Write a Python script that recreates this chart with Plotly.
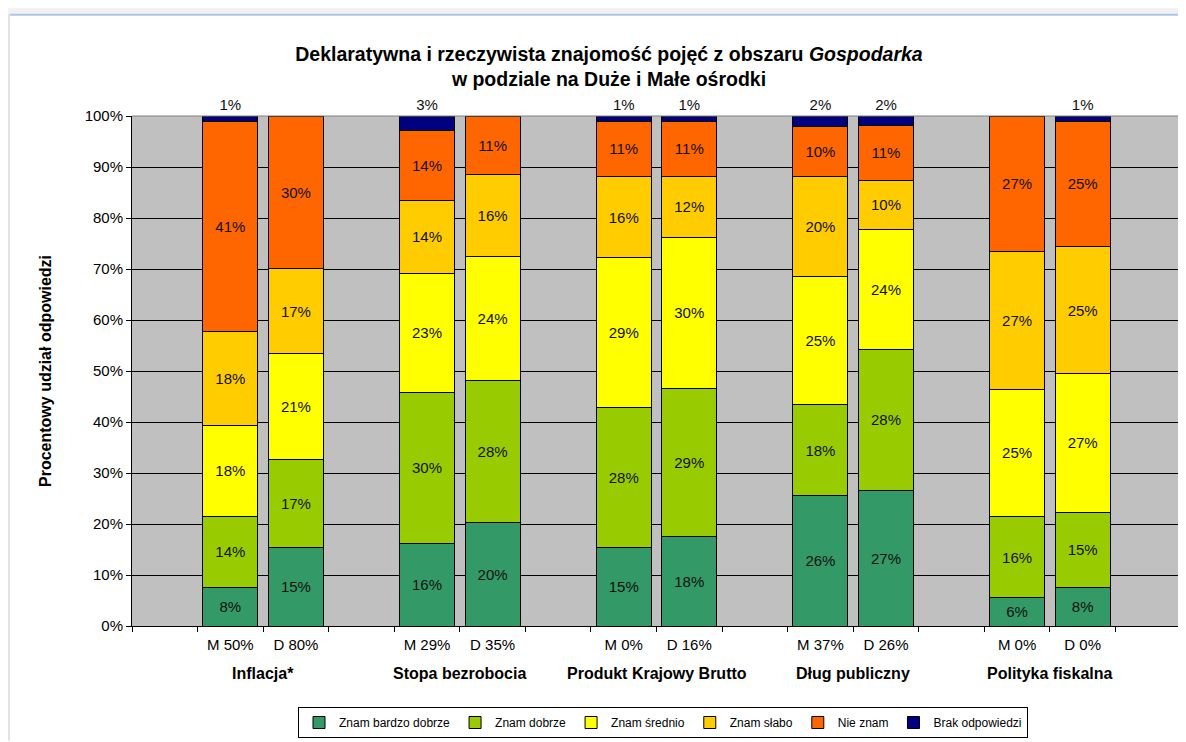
import plotly.graph_objects as go

# ---- data ----
groups = ["Inflacja*", "Stopa bezrobocia", "Produkt Krajowy Brutto", "Dług publiczny", "Polityka fiskalna"]
bar_labels = ["M 50%", "D 80%", "M 29%", "D 35%", "M 0%", "D 16%", "M 37%", "D 26%", "M 0%", "D 0%"]

znam_bardzo_dobrze = [7.6, 15.3, 16.2, 20.3, 15.3, 17.6, 25.6, 26.6, 5.5, 7.6]
znam_dobrze        = [13.9, 17.4, 29.6, 27.9, 27.6, 29.0, 17.8, 27.6, 16.0, 14.7]
znam_srednio       = [17.8, 20.7, 23.4, 24.3, 29.3, 29.6, 25.1, 23.6, 24.9, 27.2]
znam_slabo         = [18.4, 16.7, 14.2, 16.1, 15.9, 12.0, 19.6, 9.6, 27.0, 24.9]
nie_znam           = [41.3, 29.9, 13.7, 11.4, 10.9, 10.8, 9.9, 10.8, 26.6, 24.6]
brak_odpowiedzi    = [1.0, 0.0, 2.9, 0.0, 1.0, 1.0, 2.0, 1.8, 0.0, 1.0]

series_names = ["Znam bardzo dobrze", "Znam dobrze", "Znam średnio", "Znam słabo", "Nie znam", "Brak odpowiedzi"]
series_values = [znam_bardzo_dobrze, znam_dobrze, znam_srednio, znam_slabo, nie_znam, brak_odpowiedzi]
series_colors = ["#339966", "#99CC00", "#FFFF00", "#FFCC00", "#FF6600", "#000080"]

# slot positions: each group takes 3 slots (empty, M, D), plus a trailing empty slot
xpos = [3 * (i // 2) + 1 + (i % 2) for i in range(len(bar_labels))]
group_centers = [3 * g + 1.5 for g in range(len(groups))]

FONT = "Liberation Sans, Arial, sans-serif"
OFF = 8  # page body margin
W, H = 1186 - OFF, 742 - OFF

fig = go.Figure()
for name, vals, col in zip(series_names, series_values, series_colors):
    last = name == "Brak odpowiedzi"
    fig.add_trace(go.Bar(
        x=xpos, y=vals, name=name,
        marker=dict(color=col, line=dict(color="black", width=1)),
        text=["" if v == 0 else f"{v:.0f}%" for v in vals],
        textposition="outside" if last else "inside",
        insidetextanchor="middle",
        textangle=0,
        constraintext="none",
        cliponaxis=False,
        textfont=dict(family=FONT, size=15, color="#111111"),
        hovertemplate="%{y:.1f}%<extra>" + name + "</extra>",
    ))

def px_x(px):
    return (px - 132) / 1049

def px_y(py):
    return (627 - py) / 511

annotations = []
for gname, gx in zip(groups, group_centers):
    annotations.append(dict(
        x=gx, y=px_y(675), xref="x", yref="paper",
        text=f"<b>{gname}</b>", showarrow=False, yanchor="middle",
        font=dict(family=FONT, size=16, color="#000000"),
    ))
annotations.append(dict(
    x=px_x(45), y=0.5, xref="paper", yref="paper",
    text="<b>Procentowy udział odpowiedzi</b>", textangle=-90, showarrow=False,
    xanchor="center", yanchor="middle",
    font=dict(family=FONT, size=16, color="#000000"),
))

shapes = [
    # window-like frame decoration
    dict(type="rect", xref="paper", yref="paper", x0=px_x(OFF), x1=px_x(1186),
         y0=px_y(14), y1=px_y(OFF), line=dict(width=0),
         fillcolor="#f1f1f1", layer="below"),
    dict(type="line", xref="paper", yref="paper", x0=px_x(10), x1=px_x(1186),
         y0=px_y(14.5), y1=px_y(14.5), line=dict(color="#a9c6ea", width=2)),
    dict(type="rect", xref="paper", yref="paper", x0=px_x(OFF), x1=px_x(10),
         y0=px_y(742), y1=px_y(14), line=dict(width=0),
         fillcolor="#e2e2e2", layer="below"),
    # gray plot-area border (top, right)
    dict(type="line", xref="paper", yref="paper", x0=0, x1=1, y0=1, y1=1,
         line=dict(color="#808080", width=1)),
    dict(type="line", xref="paper", yref="paper", x0=1, x1=1, y0=0, y1=1,
         line=dict(color="#808080", width=1)),
]

fig.update_layout(
    width=W, height=H,
    margin=dict(l=132 - OFF, r=W - (1181 - OFF), t=116 - OFF, b=H - (627 - OFF)),
    barmode="stack", bargap=0.16,
    paper_bgcolor="white", plot_bgcolor="#C0C0C0",
    font=dict(family=FONT, size=15, color="#000000"),
    title=dict(
        text="<b>Deklaratywna i rzeczywista znajomość pojęć z obszaru <i>Gospodarka</i><br>w podziale na Duże i Małe ośrodki</b>",
        x=(609 - OFF) / W, xanchor="center", xref="container",
        y=1 - (61 - OFF) / H, yanchor="middle", yref="container",
        font=dict(family=FONT, size=19.5, color="#000000"),
    ),
    xaxis=dict(
        range=[-0.5, 15.5], tickmode="array", tickvals=xpos, ticktext=bar_labels,
        ticks="outside", ticklen=5, tickcolor="rgba(0,0,0,0)",
        minor=dict(tick0=-0.5, dtick=1, ticks="outside", ticklen=5, tickcolor="black", showgrid=False),
        showgrid=False, zeroline=False, showline=True, linecolor="black", linewidth=1,
        tickfont=dict(family=FONT, size=15, color="#000000"),
    ),
    yaxis=dict(
        range=[0, 100.001], tickmode="array", tickvals=list(range(0, 101, 10)),
        ticktext=[f"{v}%" for v in range(0, 101, 10)],
        ticks="outside", ticklen=5, tickcolor="black",
        showgrid=True, gridcolor="black", gridwidth=1,
        zeroline=False, showline=True, linecolor="black", linewidth=1,
        tickfont=dict(family=FONT, size=15, color="#000000"),
    ),
    legend=dict(
        orientation="h", x=px_x(663), xanchor="center",
        y=px_y(707), yanchor="top",
        bordercolor="black", borderwidth=1, bgcolor="white",
        font=dict(family=FONT, size=12, color="#000000"),
        traceorder="normal", itemwidth=30,
    ),
    annotations=annotations,
    shapes=shapes,
    showlegend=True,
)

fig.write_html("out.html")
